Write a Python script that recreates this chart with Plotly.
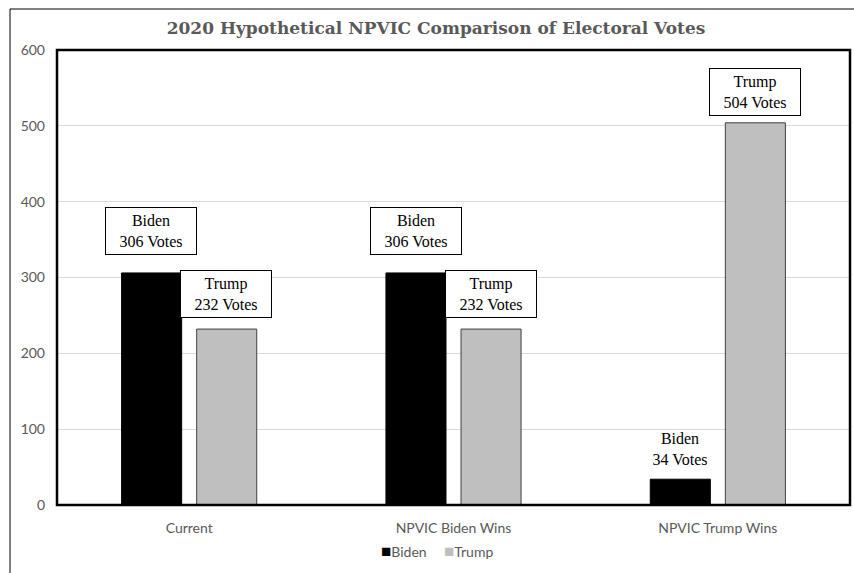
import plotly.graph_objects as go

categories = ["Current", "NPVIC Biden Wins", "NPVIC Trump Wins"]
biden = [306, 306, 34]
trump = [232, 232, 504]
title = "2020 Hypothetical NPVIC Comparison of Electoral Votes"

W, H = 854, 573
L, R, T, B = 57, 4, 50, 68
pw, ph = W - L - R, H - T - B

fig = go.Figure()
fig.add_trace(go.Bar(name="Biden", x=categories, y=biden, showlegend=False,
                     marker=dict(color="#000000", line=dict(color="#000000", width=1))))
fig.add_trace(go.Bar(name="Trump", x=categories, y=trump, showlegend=False,
                     marker=dict(color="#bfbfbf", line=dict(color="#404040", width=1))))

lab_font = dict(family="Liberation Serif, Georgia, serif", size=16, color="#000000")
box_labels = [
    (0, "Biden<br>306 Votes", 361, -38, True),
    (0, "Trump<br>232 Votes", 278, 37, True),
    (1, "Biden<br>306 Votes", 361, -38, True),
    (1, "Trump<br>232 Votes", 278, 37, True),
    (2, "Trump<br>504 Votes", 545, 37, True),
    (2, "Biden<br>34 Votes", 74, -38, False),
]
for ci, txt, yv, xs, boxed in box_labels:
    fig.add_annotation(x=categories[ci], y=yv, xref="x", yref="y", text=txt,
                       showarrow=False, xshift=xs, font=lab_font,
                       bgcolor="white" if boxed else "rgba(0,0,0,0)",
                       bordercolor="#000000" if boxed else "rgba(0,0,0,0)",
                       borderwidth=1, borderpad=4, width=82, align="center")

# legend drawn as text (Excel style compact legend)
leg_y = -(550 - (T + ph)) / ph
fig.add_annotation(xref="paper", yref="paper", x=(379 - L) / pw, y=leg_y, xanchor="left", yanchor="middle",
                   showarrow=False, text="<span style='color:#000000;font-size:17px'>■</span>Biden",
                   font=dict(family="Lato, sans-serif", size=14, color="#595959"))
fig.add_annotation(xref="paper", yref="paper", x=(442 - L) / pw, y=leg_y, xanchor="left", yanchor="middle",
                   showarrow=False, text="<span style='color:#bfbfbf;font-size:17px'>■</span>Trump",
                   font=dict(family="Lato, sans-serif", size=14, color="#595959"))

# plot frame
fig.add_shape(type="rect", xref="paper", yref="paper", x0=0, x1=1, y0=0, y1=1,
              line=dict(color="#000000", width=2.5), layer="above")
# outer chart border (cropped)
fig.add_shape(type="rect", xref="paper", yref="paper",
              x0=(10 - L) / pw, x1=(870 - L) / pw,
              y0=-(590 - (T + ph)) / ph, y1=1 + (T - 9) / ph,
              line=dict(color="#000000", width=1))

fig.update_layout(
    width=W, height=H,
    margin=dict(l=L, r=R, t=T, b=B),
    paper_bgcolor="white", plot_bgcolor="white",
    barmode="group", bargap=0.432, bargroupgap=0.2,
    title=dict(text="<b>" + title + "</b>", x=436 / W, xanchor="center", y=1 - 28 / H, yanchor="middle",
               font=dict(family="DejaVu Serif, Georgia, serif", size=17, color="#595959")),
    font=dict(family="Lato, sans-serif", size=14, color="#595959"),
    yaxis=dict(range=[0, 600], dtick=100, showgrid=True, gridcolor="#d9d9d9", gridwidth=1,
               zeroline=False, showline=False, ticks="", ticklabelstandoff=11,
               tickfont=dict(family="Lato, sans-serif", size=14, color="#595959")),
    xaxis=dict(showline=True, linecolor="#bfbfbf", linewidth=1, ticks="", ticklabelstandoff=10,
               tickfont=dict(family="Lato, sans-serif", size=14, color="#595959")),
    showlegend=False,
)

fig.write_html("out.html")
